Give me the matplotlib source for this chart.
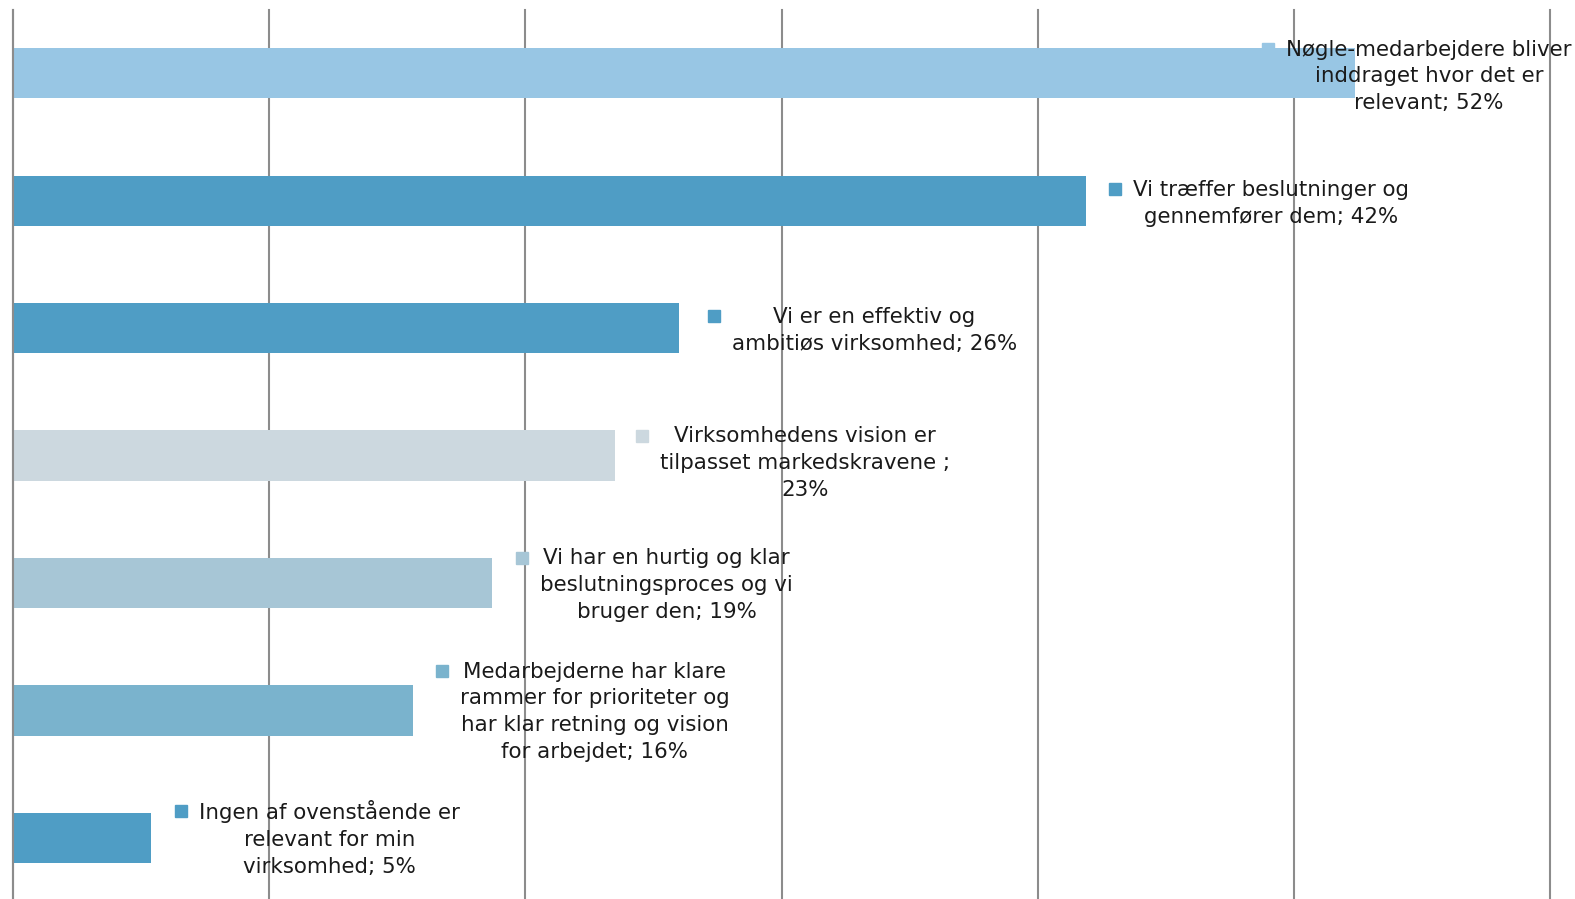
import matplotlib
matplotlib.use("Agg")
import matplotlib.pyplot as plt
import matplotlib.transforms as mtransforms

categories = [
    "Nøgle-medarbejdere bliver\ninddraget hvor det er\nrelevant",
    "Vi træffer beslutninger og\ngennemfører dem",
    "Vi er en effektiv og\nambitiøs virksomhed",
    "Virksomhedens vision er\ntilpasset markedskravene ;",
    "Vi har en hurtig og klar\nbeslutningsproces og vi\nbruger den",
    "Medarbejderne har klare\nrammer for prioriteter og\nhar klar retning og vision\nfor arbejdet",
    "Ingen af ovenstående er\nrelevant for min\nvirksomhed",
]
values = [52.4, 41.9, 26.0, 23.5, 18.7, 15.6, 5.4]
value_labels = ["52%", "42%", "26%", "23%", "19%", "16%", "5%"]
# separator between category and value ("; " or newline)
separators = ["; ", "; ", "; ", "\n", "; ", "; ", "; "]
colors = ["#98C6E4", "#4F9DC5", "#4F9DC5", "#CCD8DF", "#A7C6D6", "#7AB3CD", "#4F9DC5"]

W, H, DPI = 15.75, 8.99, 100
fig = plt.figure(figsize=(W, H), dpi=DPI)
ax = fig.add_axes([13 / 1575, -2.6 / 899, (1550 - 13) / 1575, 892 / 899])

n = len(values)
ypos = list(range(n))
ax.barh(ypos, values, height=0.394, color=colors, zorder=2)
ax.set_xlim(0, 60)
ax.set_ylim(n - 0.5, -0.5)
ax.set_xticks(range(0, 61, 10))
ax.set_yticks([])
ax.tick_params(axis="x", length=0, labelbottom=False)
ax.grid(axis="x", color="#8C8C8C", linewidth=1.5, zorder=0)
for gl in ax.get_xgridlines():
    gl.set_clip_on(False)
for s in ["top", "right", "bottom"]:
    ax.spines[s].set_visible(False)
ax.spines["left"].set_color("#8C8C8C")
ax.spines["left"].set_linewidth(1.5)
ax.spines["left"].set_zorder(3)

# pixel offsets of the label block relative to bar end / bar centre
key_dx = [-93, 23, 29, 21, 24, 23, 24]
key_dy = [-3, -2.5, -2, -7.4, -1.8, -1.3, -0.8]
line_h = 26.3
fs = 15.4
for i, (cat, v, vl, sep, c) in enumerate(zip(categories, values, value_labels, separators, colors)):
    txt = cat + sep + vl
    nlines = txt.count("\n") + 1
    sq_off = mtransforms.offset_copy(ax.transData, fig=fig, x=key_dx[i] + 6,
                                     y=(nlines - 1) * line_h / 2 + key_dy[i] + 1, units="dots")
    ax.plot([v], [i], marker="s", markersize=8, color=c, transform=sq_off, clip_on=False, zorder=4)
    t_off = mtransforms.offset_copy(ax.transData, fig=fig, x=key_dx[i] + 24, y=key_dy[i], units="dots")
    ax.text(v, i, txt, transform=t_off, ha="left", va="center", multialignment="center",
            fontsize=fs, color="#1a1a1a", linespacing=1.42, zorder=5, clip_on=False)

fig.savefig("out.png", dpi=DPI)
